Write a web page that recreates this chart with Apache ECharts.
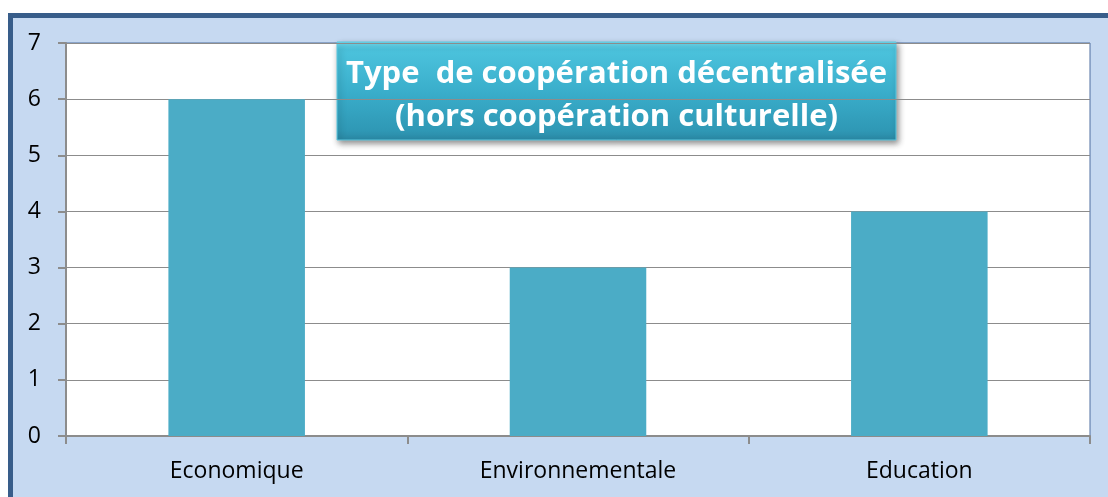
<!DOCTYPE html>
<html>
<head>
<meta charset="utf-8">
<script src="https://cdn.jsdelivr.net/npm/echarts@6/dist/echarts.min.js"></script>
<style>
html,body{margin:0;padding:0;background:#fff;}
#frame{position:absolute;left:8px;top:13px;width:1110px;height:500px;background:#c6d9f1;border-left:5px solid #385d8a;border-top:5px solid #385d8a;box-sizing:border-box;}
#chart{position:absolute;left:0;top:0;width:1108px;height:497px;}
</style>
</head>
<body>
<div id="frame"></div>
<div id="chart"></div>
<script>
const categories = ['Economique', 'Environnementale', 'Education'];
const values = [6, 3, 4];
const titleLines = ['Type  de coopération décentralisée', '(hors coopération culturelle)'];
const yMin = 0, yMax = 7, yInterval = 1;

const chart = echarts.init(document.getElementById('chart'), null, {renderer: 'canvas'});
const titleFont = {fontFamily: 'Open Sans', fontWeight: 'bold', fontSize: 31};
chart.setOption({
  backgroundColor: 'transparent',
  animation: false,
  graphic: [{
    type: 'group',
    z: 100,
    children: [{
      type: 'rect',
      shape: {x: 337, y: 42, width: 559, height: 98},
      style: {
        fill: {
          type: 'linear', x: 0, y: 0, x2: 0, y2: 1,
          colorStops: [
            {offset: 0, color: '#74e0f3'},
            {offset: 0.08, color: '#4cc3dd'},
            {offset: 0.5, color: '#3aaecb'},
            {offset: 0.9, color: '#2f98b5'},
            {offset: 1, color: '#2a88a4'}
          ]
        },
        stroke: '#5cc8e0',
        lineWidth: 1,
        shadowColor: 'rgba(0,0,0,0.45)',
        shadowBlur: 6,
        shadowOffsetX: 2,
        shadowOffsetY: 3
      }
    }, {
      type: 'text',
      x: 616.5, y: 74,
      style: Object.assign({text: titleLines[0], fill: '#ffffff', align: 'center', verticalAlign: 'middle'}, titleFont)
    }, {
      type: 'text',
      x: 616.5, y: 117,
      style: Object.assign({text: titleLines[1], fill: '#ffffff', align: 'center', verticalAlign: 'middle'}, titleFont)
    }]
  }],
  grid: {
    left: 66, top: 43, right: 18, bottom: 61,
    show: true,
    backgroundColor: '#ffffff',
    borderColor: '#4f6fa0',
    borderWidth: 1,
    containLabel: false
  },
  xAxis: {
    type: 'category',
    data: categories,
    boundaryGap: true,
    axisLine: {show: true, lineStyle: {color: '#8c8c8c', width: 2}},
    axisTick: {show: true, length: 8, alignWithLabel: false, lineStyle: {color: '#8c8c8c', width: 2}},
    axisLabel: {color: '#000', fontFamily: 'Open Sans', fontSize: 23, margin: 24},
    splitLine: {show: false}
  },
  yAxis: {
    type: 'value',
    min: yMin, max: yMax, interval: yInterval,
    axisLine: {show: true, lineStyle: {color: '#8c8c8c', width: 2}},
    axisTick: {show: true, length: 8, lineStyle: {color: '#8c8c8c', width: 2}},
    axisLabel: {color: '#000', fontFamily: 'Open Sans', fontSize: 23, margin: 25},
    splitLine: {show: true, lineStyle: {color: '#8c8c8c', width: 1}}
  },
  series: [{
    type: 'bar',
    data: values,
    barWidth: '40%',
    itemStyle: {color: '#4bacc6'}
  }]
});
</script>
</body>
</html>
